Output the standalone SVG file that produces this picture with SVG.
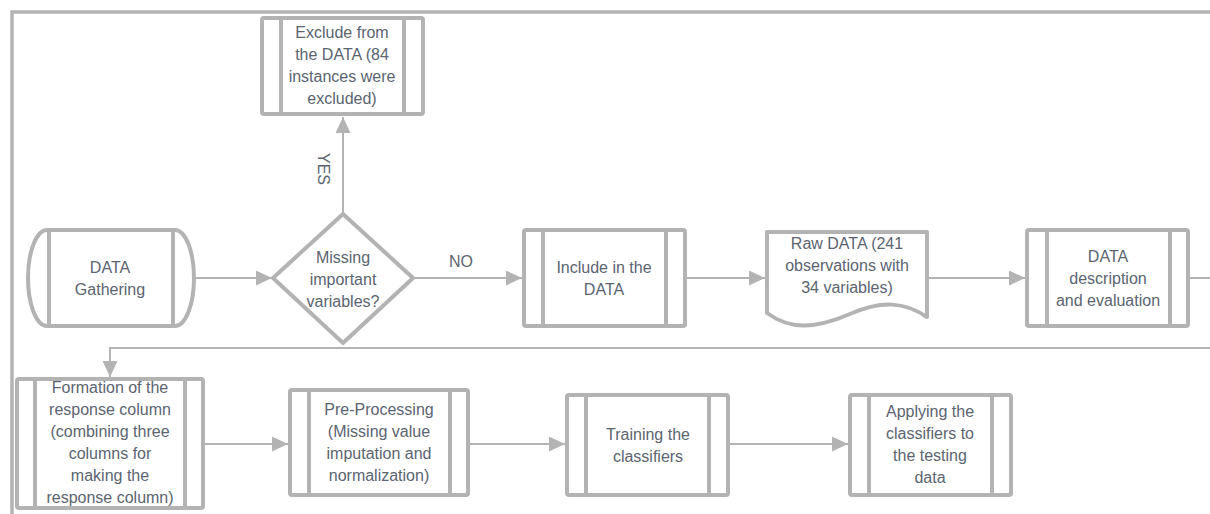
<svg xmlns="http://www.w3.org/2000/svg" width="1210" height="514" viewBox="0 0 1210 514">
  <style>
    .shape { fill: #ffffff; stroke: #b3b3b3; stroke-width: 4; stroke-linejoin: round; }
    .bar { stroke: #b3b3b3; stroke-width: 4; }
    .frame { fill: none; stroke: #b3b3b3; stroke-width: 3.5; }
    .conn { fill: none; stroke: #b3b3b3; stroke-width: 2; }
    text { font-family: "Liberation Sans", Arial, sans-serif; font-size: 16px; fill: #5b6470; text-anchor: middle; }
  </style>
  <defs>
    <marker id="arrow" viewBox="0 0 16 15" refX="16" refY="7.5" markerWidth="16" markerHeight="15" markerUnits="userSpaceOnUse" orient="auto">
      <path d="M0,0 L16,7.5 L0,15 Z" fill="#b3b3b3"/>
    </marker>
  </defs>

  <!-- outer frame (top and left edges) -->
  <path class="frame" d="M12,514 V12 H1210"/>

  <!-- connectors -->
  <g id="connectors">
    <line class="conn" x1="343" y1="213" x2="343" y2="117" marker-end="url(#arrow)"/>
    <text x="0" y="0" transform="translate(318,169) rotate(90)">YES</text>
    <line class="conn" x1="195" y1="278" x2="272" y2="278" marker-end="url(#arrow)"/>
    <line class="conn" x1="414" y1="278" x2="522" y2="278" marker-end="url(#arrow)"/>
    <text x="461" y="267">NO</text>
    <line class="conn" x1="687" y1="278" x2="765" y2="278" marker-end="url(#arrow)"/>
    <line class="conn" x1="928" y1="278" x2="1025" y2="278" marker-end="url(#arrow)"/>
    <polyline class="conn" points="1190,278 1210,278"/>
    <polyline class="conn" points="1210,348 110,348 110,377" marker-end="url(#arrow)"/>
    <line class="conn" x1="205" y1="444" x2="288" y2="444" marker-end="url(#arrow)"/>
    <line class="conn" x1="470" y1="444" x2="565" y2="444" marker-end="url(#arrow)"/>
    <line class="conn" x1="730" y1="444" x2="848" y2="444" marker-end="url(#arrow)"/>
  </g>

  <!-- exclude -->
  <g id="exclude">
    <rect class="shape" x="262" y="18" width="161" height="96" rx="2"/>
    <line class="bar" x1="281" y1="18" x2="281" y2="114"/>
    <line class="bar" x1="404" y1="18" x2="404" y2="114"/>
    <text x="342" y="38">Exclude from</text>
    <text x="342" y="60">the DATA (84</text>
    <text x="342" y="82">instances were</text>
    <text x="342" y="104">excluded)</text>
  </g>

  <!-- data gathering -->
  <g id="gathering">
    <path class="shape" d="M47,230 H175 A19,48 0 0 1 175,326 H47 A19,48 0 0 1 47,230 Z"/>
    <line class="bar" x1="49" y1="230" x2="49" y2="326"/>
    <line class="bar" x1="173" y1="230" x2="173" y2="326"/>
    <text x="110" y="273">DATA</text>
    <text x="110" y="295">Gathering</text>
  </g>

  <!-- decision -->
  <g id="decision">
    <polygon class="shape" points="343,214 413,278 343,343 273,278"/>
    <text x="343" y="263">Missing</text>
    <text x="343" y="285">important</text>
    <text x="343" y="307">variables?</text>
  </g>

  <!-- include -->
  <g id="include">
    <rect class="shape" x="524" y="230" width="161" height="96" rx="2"/>
    <line class="bar" x1="543" y1="230" x2="543" y2="326"/>
    <line class="bar" x1="666" y1="230" x2="666" y2="326"/>
    <text x="604" y="273">Include in the</text>
    <text x="604" y="295">DATA</text>
  </g>

  <!-- raw data document -->
  <g id="rawdata">
    <path class="shape" d="M767,232 H927 V317 C905,302 882,300 850,314 C815,329 790,330 767,313 Z"/>
    <text x="847" y="249">Raw DATA (241</text>
    <text x="847" y="271">observations with</text>
    <text x="847" y="293">34 variables)</text>
  </g>

  <!-- description -->
  <g id="description">
    <rect class="shape" x="1027" y="230" width="161" height="96" rx="2"/>
    <line class="bar" x1="1047" y1="230" x2="1047" y2="326"/>
    <line class="bar" x1="1170" y1="230" x2="1170" y2="326"/>
    <text x="1108" y="262">DATA</text>
    <text x="1108" y="284">description</text>
    <text x="1108" y="306">and evaluation</text>
  </g>

  <!-- response column -->
  <g id="formation">
    <rect class="shape" x="17" y="379" width="186" height="129" rx="2"/>
    <line class="bar" x1="35" y1="379" x2="35" y2="508"/>
    <line class="bar" x1="185" y1="379" x2="185" y2="508"/>
    <text x="110" y="393">Formation of the</text>
    <text x="110" y="415">response column</text>
    <text x="110" y="437">(combining three</text>
    <text x="110" y="459">columns for</text>
    <text x="110" y="481">making the</text>
    <text x="110" y="503">response column)</text>
  </g>

  <!-- pre-processing -->
  <g id="preprocessing">
    <rect class="shape" x="290" y="390" width="178" height="105" rx="2"/>
    <line class="bar" x1="309" y1="390" x2="309" y2="495"/>
    <line class="bar" x1="450" y1="390" x2="450" y2="495"/>
    <text x="379" y="415">Pre-Processing</text>
    <text x="379" y="437">(Missing value</text>
    <text x="379" y="459">imputation and</text>
    <text x="379" y="481">normalization)</text>
  </g>

  <!-- training -->
  <g id="training">
    <rect class="shape" x="567" y="395" width="161" height="100" rx="2"/>
    <line class="bar" x1="586" y1="395" x2="586" y2="495"/>
    <line class="bar" x1="709" y1="395" x2="709" y2="495"/>
    <text x="648" y="440">Training the</text>
    <text x="648" y="462">classifiers</text>
  </g>

  <!-- applying -->
  <g id="applying">
    <rect class="shape" x="850" y="395" width="161" height="100" rx="2"/>
    <line class="bar" x1="869" y1="395" x2="869" y2="495"/>
    <line class="bar" x1="992" y1="395" x2="992" y2="495"/>
    <text x="930" y="417">Applying the</text>
    <text x="930" y="439">classifiers to</text>
    <text x="930" y="461">the testing</text>
    <text x="930" y="483">data</text>
  </g>
</svg>
